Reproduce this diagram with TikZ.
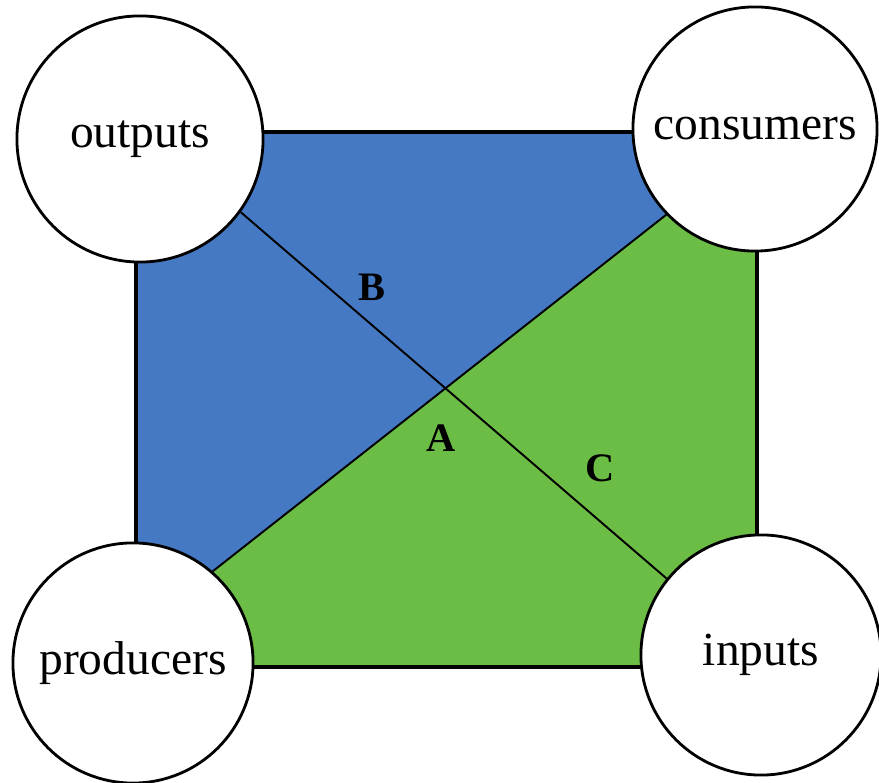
\documentclass[tikz,border=0pt]{standalone}
\usepackage{fontspec}
\setmainfont{Liberation Serif}
\usetikzlibrary{calc,backgrounds}
\definecolor{regblue}{RGB}{70,121,196}
\definecolor{reggreen}{RGB}{108,189,69}

\begin{document}
\begin{tikzpicture}[x=0.01cm,y=-0.01cm,
    ring/.style={circle,draw,line width=0.8pt,fill=white,inner sep=0pt,font=\fontsize{13.5}{16}\selectfont},
    part/.style={font=\bfseries\fontsize{11.5}{14}\selectfont},
    split/.style={line width=0.55pt}]
    \useasboundingbox (0,0) rectangle (879,783);
    \coordinate (tl) at (136,132);
    \coordinate (tr) at (757,132);
    \coordinate (bl) at (136,667);
    \coordinate (br) at (757,667);
    \node[ring,minimum size=2.46cm] (outp) at (140,139) {outputs};
    \node[ring,minimum size=2.44cm] (cons) at (755,129) {consumers};
    \node[ring,minimum size=2.40cm] (prod) at (133,663) {producers};
    \node[ring,minimum size=2.40cm] (inp) at (761,655) {inputs};
    \begin{scope}[on background layer]
      \fill[reggreen] (tl) rectangle (br);
      \fill[regblue] (tl) -- (tr)
        -- (intersection of prod.49--cons.224 and tr--br)
        -- (intersection of prod.49--cons.224 and tl--bl) -- cycle;
      \draw[line width=0.9pt] (tl) rectangle (br);
    \end{scope}
    \draw[split] (prod.49) -- (cons.224);
    \draw[split] (outp.-36) -- (inp.141);
    \node[part] (labB) at (372,287) {B};
    \node[part] (labA) at (441,438) {A};
    \node[part] (labC) at (600,468) {C};
\end{tikzpicture}
\end{document}
